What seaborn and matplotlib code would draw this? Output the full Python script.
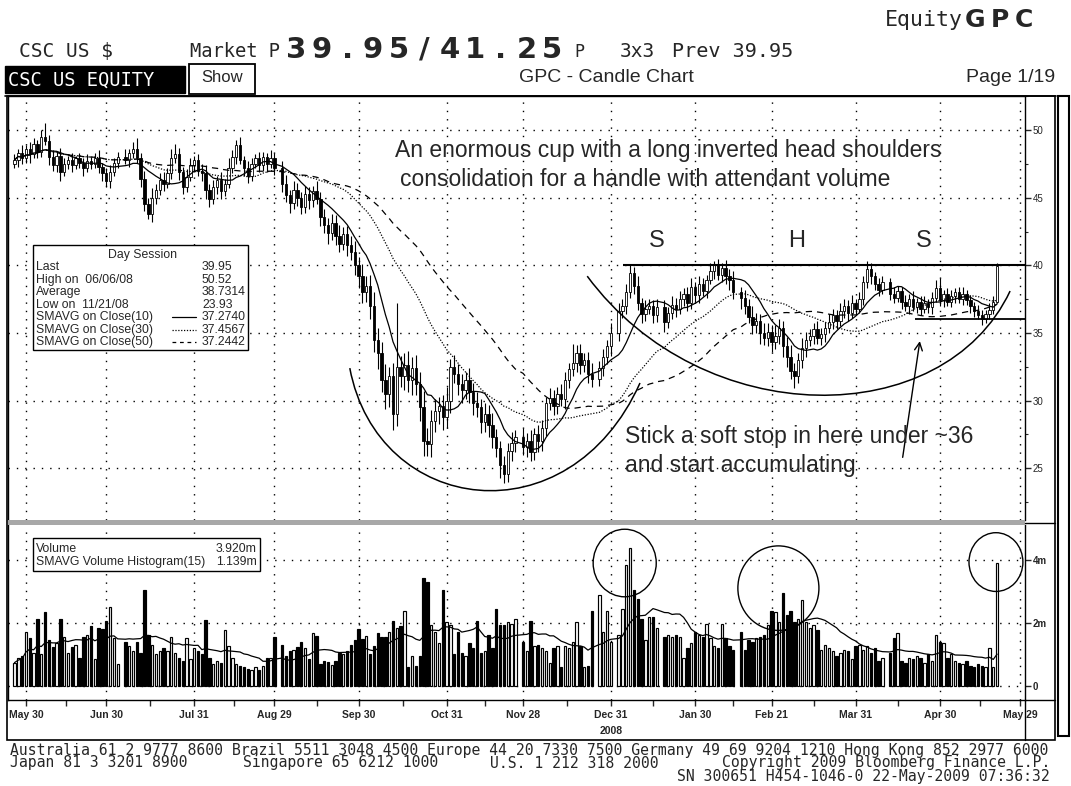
import numpy as np
import pandas as pd
import matplotlib.pyplot as plt
import seaborn as sns
from matplotlib.patches import Rectangle, Ellipse, PathPatch
from matplotlib.lines import Line2D
from matplotlib.path import Path
from matplotlib.ticker import MultipleLocator

W, H = 1071, 786

# ---- data ----
start = "2008-05-27"
holidays = ["2008-07-04", "2008-09-01", "2008-11-27", "2008-12-25",
            "2009-01-01", "2009-01-19", "2009-02-16", "2009-04-10"]

close = [
    47.8, 48.3, 47.9, 48.6, 48.2, 49.0, 48.4, 49.5, 49.2, 48.0,
    47.4, 48.1, 46.9, 47.5, 47.8, 47.4, 47.9, 47.6, 47.2, 47.7,
    47.5, 47.9, 47.3, 46.8, 46.2, 46.9, 47.6, 48.0, 47.8, 48.3,
    48.6, 47.9, 46.4, 44.5, 43.8, 45.0, 45.6, 46.3, 46.0, 46.8,
    47.9, 48.2, 46.9, 45.8, 46.5, 47.4, 47.8, 47.0, 46.8, 45.6,
    44.9, 45.8, 46.3, 45.5, 46.0, 47.2, 48.0, 48.9, 47.8, 47.2,
    46.6, 47.5, 47.9, 47.4, 48.0, 47.5, 47.9, 47.2, 46.0, 45.2,
    44.6, 45.6, 45.0, 44.3, 45.3, 44.8, 45.5, 44.9, 43.6, 43.0,
    42.4, 43.1, 42.2, 41.6, 42.3, 41.5, 41.0, 40.0, 39.2, 38.0,
    38.5, 37.0, 34.5, 33.5, 31.5, 30.5, 31.8, 29.0, 32.5, 31.8,
    32.6, 31.5, 32.4, 31.2, 29.5, 27.0, 26.8, 28.5, 29.2, 29.6,
    28.8, 30.0, 32.5, 32.0, 31.2, 30.8, 31.5, 30.6, 29.8, 29.5,
    28.4, 29.0, 28.2, 27.3, 26.5, 25.2, 24.6, 26.3, 26.9, 27.3,
    26.6, 27.0, 26.2, 27.5, 27.0, 28.0, 29.8, 30.2, 29.6, 30.5,
    30.1, 31.5, 32.3, 32.8, 33.5, 32.6, 33.0, 32.0, 31.6, 32.4,
    33.2, 34.0, 35.0, 36.6, 37.0, 38.0, 39.4, 38.5, 37.2, 36.4,
    36.8, 37.0, 36.3, 36.9, 35.8, 36.5, 37.1, 36.8, 37.5, 37.9,
    37.2, 38.4, 37.8, 38.6, 38.1, 38.9, 39.6, 40.0, 39.3, 39.8,
    39.2, 38.9, 38.0, 37.6, 37.0, 36.2, 35.6, 35.9, 35.0, 34.6,
    35.1, 34.3, 34.8, 35.4, 34.0, 33.2, 32.2, 31.8, 33.0, 33.9,
    34.5, 34.8, 35.3, 34.6, 34.9, 35.4, 35.8, 36.3, 35.9, 36.6,
    37.0, 36.5, 37.2, 36.8, 37.5, 38.8, 39.7, 39.2, 38.6, 38.2,
    38.8, 37.9, 37.6, 38.1, 37.3, 37.0, 37.5, 36.9, 37.3, 36.8,
    37.2, 36.9, 37.6, 38.3, 37.4, 37.9, 37.3, 37.7, 38.0, 37.5,
    37.9, 37.4, 37.0, 36.6, 36.3, 36.0, 36.4, 36.7, 37.3, 39.95,
]
first_open = 47.5

wick_hi = [
    0.4, 0.3, 0.6, 0.3, 0.5, 0.4, 0.3, 0.5, 1.02, 0.4,
    0.5, 0.3, 0.6, 0.4, 0.3, 0.5, 0.2, 0.4, 0.3, 0.5,
    0.3, 0.4, 0.6, 0.3, 0.4, 0.5, 0.3, 0.4, 0.6, 0.3,
    0.5, 0.8, 0.4, 0.6, 0.5, 0.7, 0.4, 0.5, 0.6, 0.4,
    0.7, 0.8, 0.5, 0.4, 0.6, 0.5, 0.3, 0.4, 0.5, 0.6,
    0.4, 0.5, 0.3, 0.6, 0.4, 0.7, 0.5, 0.4, 0.6, 0.3,
    0.5, 0.4, 0.3, 0.5, 0.4, 0.3, 0.6, 0.4, 0.5, 0.7,
    0.4, 0.6, 0.5, 0.4, 0.6, 0.5, 0.4, 0.7, 0.5, 0.6,
    0.5, 0.7, 0.6, 0.8, 0.5, 0.6, 0.7, 0.8, 0.6, 0.9,
    0.7, 0.8, 1.0, 0.9, 0.8, 1.2, 0.7, 1.0, 4.7, 0.8,
    0.9, 1.1, 0.8, 1.0, 0.9, 1.2, 1.0, 0.8, 0.9, 0.7,
    0.8, 1.0, 0.6, 0.9, 0.7, 0.8, 0.6, 0.9, 0.7, 0.8,
    0.6, 0.8, 0.7, 0.9, 0.6, 0.5, 0.7, 0.6, 0.8, 0.5,
    0.7, 0.6, 0.8, 0.5, 0.7, 0.6, 0.5, 0.7, 0.6, 0.5,
    0.7, 0.6, 0.5, 1.4, 0.6, 0.7, 0.5, 0.6, 0.8, 0.5,
    0.6, 0.5, 0.7, 0.6, 0.5, 0.6, 0.6, 0.5, 0.7, 0.4,
    0.6, 0.5, 0.4, 0.6, 0.5, 0.4, 0.6, 0.5, 0.6, 0.4,
    0.5, 0.7, 0.4, 0.6, 0.5, 0.4, 0.6, 0.3, 0.5, 0.4,
    0.6, 0.5, 0.7, 0.4, 0.6, 0.5, 0.8, 0.6, 0.5, 0.7,
    0.6, 0.5, 0.8, 0.6, 0.5, 0.7, 0.9, 0.6, 0.5, 0.7,
    0.6, 0.5, 0.4, 0.6, 0.5, 0.4, 0.6, 0.5, 0.4, 0.6,
    0.5, 0.4, 0.6, 0.3, 0.5, 0.4, 0.6, 0.5, 0.3, 0.5,
    0.4, 0.3, 0.5, 0.4, 0.3, 0.5, 0.4, 0.6, 0.3, 0.4,
    0.5, 0.3, 0.4, 0.6, 0.8, 0.3, 0.4, 0.5, 0.3, 0.4,
    0.5, 0.3, 0.4, 0.3, 0.5, 0.4, 0.3, 0.5, 0.4, 0.25,
]

wick_lo = [
    0.3, 0.5, 0.4, 0.3, 0.6, 0.3, 0.5, 0.4, 0.3, 0.6,
    0.4, 0.5, 0.7, 0.3, 0.4, 0.5, 0.3, 0.4, 0.6, 0.3,
    0.4, 0.3, 0.5, 0.6, 0.4, 0.5, 0.3, 0.4, 0.3, 0.5,
    0.4, 0.3, 0.6, 0.5, 0.4, 0.6, 0.5, 0.4, 0.5, 0.3,
    0.4, 0.3, 0.6, 0.5, 0.4, 0.3, 0.5, 0.4, 0.6, 0.7,
    0.6, 0.4, 0.5, 0.6, 0.4, 0.3, 0.4, 0.5, 0.3, 0.6,
    0.5, 0.4, 0.3, 0.5, 0.4, 0.6, 0.3, 0.5, 0.6, 0.5,
    0.7, 0.4, 0.6, 0.5, 0.4, 0.6, 0.5, 0.4, 0.7, 0.6,
    0.8, 0.5, 0.7, 0.6, 0.5, 0.8, 0.6, 0.7, 0.9, 0.8,
    0.7, 1.0, 0.9, 1.2, 0.9, 1.1, 1.0, 1.2, 0.9, 0.8,
    1.0, 0.9, 1.1, 0.8, 1.0, 1.1, 0.9, 1.0, 0.8, 0.9,
    1.0, 0.8, 0.9, 0.7, 0.8, 1.0, 0.7, 0.8, 0.9, 0.7,
    0.8, 0.7, 0.9, 0.8, 0.7, 0.9, 0.67, 0.6, 0.8, 0.7,
    0.6, 0.8, 0.7, 0.6, 0.8, 0.7, 0.6, 0.5, 0.7, 0.6,
    0.5, 0.7, 0.6, 0.5, 0.7, 0.6, 0.5, 0.7, 0.6, 0.5,
    0.6, 0.5, 0.7, 0.6, 0.5, 0.6, 0.4, 0.6, 0.5, 0.7,
    0.5, 0.4, 0.6, 0.5, 0.7, 0.4, 0.5, 0.6, 0.4, 0.5,
    0.6, 0.4, 0.5, 0.6, 0.4, 0.5, 0.3, 0.6, 0.4, 0.5,
    0.6, 0.7, 0.5, 0.8, 0.6, 0.5, 0.7, 0.6, 0.8, 0.5,
    0.6, 0.7, 0.5, 0.6, 0.8, 0.7, 0.6, 0.9, 0.5, 0.6,
    0.7, 0.5, 0.6, 0.4, 0.5, 0.6, 0.4, 0.5, 0.6, 0.4,
    0.5, 0.6, 0.4, 0.5, 0.3, 0.4, 0.5, 0.6, 0.4, 0.5,
    0.3, 0.5, 0.4, 0.3, 0.5, 0.4, 0.6, 0.3, 0.4, 0.5,
    0.3, 0.4, 0.5, 0.3, 0.4, 0.5, 0.3, 0.4, 0.5, 0.3,
    0.4, 0.3, 0.5, 0.4, 0.3, 0.4, 0.3, 0.4, 0.3, 0.1,
]

# volume in millions of shares
volume = [
    0.74, 0.90, 0.95, 1.73, 1.52, 1.05, 2.12, 1.00, 2.34, 1.45,
    1.25, 1.35, 2.12, 1.57, 1.05, 1.25, 1.30, 0.90, 1.57, 1.62,
    1.90, 0.85, 1.85, 1.80, 2.06, 2.52, 1.51, 0.69, 1.40, 1.26,
    1.10, 1.40, 1.05, 3.06, 1.62, 1.30, 1.00, 1.10, 1.20, 1.10,
    1.57, 1.05, 0.90, 0.80, 1.51, 0.85, 1.20, 1.10, 1.00, 2.11,
    0.90, 0.69, 0.80, 0.74, 1.78, 1.26, 0.90, 0.69, 0.64, 0.59,
    0.54, 0.49, 0.59, 0.49, 0.64, 0.90, 0.90, 1.57, 1.30, 0.95,
    1.10, 1.15, 1.25, 1.40, 1.20, 0.85, 1.67, 1.60, 0.70, 0.80,
    0.75, 0.65, 0.80, 1.05, 1.00, 1.10, 1.30, 1.45, 1.80, 1.50,
    1.60, 1.00, 1.26, 1.67, 1.57, 1.57, 1.72, 2.08, 1.83, 1.91,
    2.39, 0.59, 0.95, 0.64, 0.95, 3.42, 3.32, 1.93, 1.72, 1.36,
    3.06, 2.03, 1.93, 1.00, 1.72, 1.05, 0.95, 1.36, 1.21, 2.08,
    1.05, 1.10, 1.62, 1.21, 2.46, 1.93, 1.93, 2.03, 1.98, 2.13,
    1.41, 1.10, 2.08, 1.26, 1.31, 1.21, 1.10, 0.74, 1.21, 1.26,
    0.59, 1.26, 1.21, 1.41, 2.03, 1.26, 0.59, 0.62, 2.39, 2.88,
    1.72, 2.39, 1.41, 1.62, 2.44, 3.84, 4.40, 3.06, 2.77, 2.13,
    1.46, 2.19, 2.19, 1.83, 1.57, 1.62, 1.57, 1.62, 1.57, 0.90,
    1.21, 1.36, 1.72, 1.62, 1.57, 1.98, 1.52, 1.26, 1.21, 1.98,
    1.52, 1.26, 1.15, 1.72, 1.15, 1.46, 1.41, 1.52, 1.57, 1.62,
    1.93, 2.39, 2.34, 2.03, 2.96, 2.24, 2.39, 2.03, 2.13, 2.72,
    2.03, 1.83, 1.93, 1.77, 1.15, 1.31, 1.21, 1.10, 0.95, 1.05,
    1.15, 1.10, 0.85, 1.26, 1.31, 1.15, 1.26, 1.05, 1.21, 0.79,
    0.90, 1.05, 1.52, 1.67, 0.79, 0.74, 0.90, 0.85, 0.95, 0.90,
    0.74, 1.00, 0.79, 1.62, 1.41, 1.36, 0.90, 1.00, 0.79, 0.74,
    0.69, 0.79, 0.64, 0.59, 0.69, 0.64, 0.59, 1.21, 0.59, 3.92,
]

tick_dates = ["2008-05-30", "2008-06-30", "2008-07-31", "2008-08-29", "2008-09-30",
              "2008-10-31", "2008-11-28", "2008-12-31", "2009-01-30", "2009-02-27",
              "2009-03-31", "2009-04-30", "2009-05-29"]
tick_labels = ["May 30", "Jun 30", "Jul 31", "Aug 29", "Sep 30", "Oct 31", "Nov 28",
               "Dec 31", "Jan 30", "Feb 21", "Mar 31", "Apr 30", "May 29"]
price_ticks = [25, 30, 35, 40, 45, 50]
vol_ticks = [0, 2, 4]
vol_tick_labels = ["0", "2m", "4m"]

session_rows = ["Last", "High on  06/06/08", "Average", "Low on  11/21/08",
                "SMAVG on Close(10)", "SMAVG on Close(30)", "SMAVG on Close(50)"]
session_vals = ["39.95", "50.52", "38.7314", "23.93", "37.2740", "37.4567", "37.2442"]

# ---- frame ----
dates = pd.bdate_range(start=start, periods=len(close), freq="C", holidays=holidays)
df = pd.DataFrame({"date": dates, "close": close, "volume": volume})
df["open"] = df["close"].shift(1).fillna(first_open)
top = df[["open", "close"]].max(axis=1)
bot = df[["open", "close"]].min(axis=1)
df["high"] = top + np.array(wick_hi)
df["low"] = bot - np.array(wick_lo)
df["x"] = np.busday_count(np.datetime64(start), dates.values.astype("datetime64[D]"))
df["sma10"] = df["close"].rolling(10, min_periods=1).mean()
df["sma30"] = df["close"].rolling(30, min_periods=1).mean()
df["sma50"] = df["close"].rolling(50, min_periods=1).mean()
df["vsma15"] = df["volume"].rolling(15, min_periods=1).mean()
df["dir"] = np.where(df["close"] >= df["open"], "up", "down")

tick_x = np.busday_count(np.datetime64(start), np.array(tick_dates, dtype="datetime64[D]"))

sns.set_theme(style="white")
plt.rcParams["font.family"] = ["Liberation Sans", "DejaVu Sans"]
NARROW = ["Liberation Sans Narrow", "Liberation Sans", "DejaVu Sans"]
MONO = "DejaVu Sans Mono"

fig = plt.figure(figsize=(W / 100, H / 100), dpi=100)


def px(x, y):
    return x / W, 1 - y / H


def frect(x0, y0, x1, y1, **kw):
    fig.add_artist(Rectangle((x0 / W, 1 - y1 / H), (x1 - x0) / W, (y1 - y0) / H,
                             transform=fig.transFigure, **kw))


def fline(xs, ys, **kw):
    kw.setdefault("color", "black")
    fig.add_artist(Line2D([v / W for v in xs], [1 - v / H for v in ys],
                          transform=fig.transFigure, **kw))


def axes_at(x0, y0, x1, y1):
    return fig.add_axes([x0 / W, 1 - y1 / H, (x1 - x0) / W, (y1 - y0) / H])


ax = axes_at(8, 96, 1025, 520)
axv = axes_at(8, 525, 1025, 700)
grid_ls = (0, (1, 5))

# ---- price panel ----
ax.vlines(df["x"], df["low"], df["high"], color="black", lw=0.8, zorder=3)
body = np.maximum(top - bot, 0.06)
ax.bar(df["x"], body, bottom=bot, width=0.62,
       color=np.where(df["dir"] == "up", "white", "black"),
       edgecolor="black", linewidth=0.6, zorder=4)
sns.lineplot(data=df, x="x", y="sma10", ax=ax, color="black", lw=0.9, zorder=5)
sns.lineplot(data=df, x="x", y="sma30", ax=ax, color="black", lw=0.9,
             linestyle=(0, (1, 1.3)), zorder=5)
sns.lineplot(data=df, x="x", y="sma50", ax=ax, color="black", lw=0.9,
             linestyle=(0, (5, 4)), zorder=5)

ax.set_xlim(-1.7, 264.3)
ax.set_ylim(21.17, 52.52)
ax.set_xticks(tick_x)
ax.set_yticks(price_ticks)
ax.yaxis.set_minor_locator(MultipleLocator(2.5))
ax.yaxis.tick_right()
ax.tick_params(axis="x", bottom=False, labelbottom=False)
ax.tick_params(axis="y", which="major", direction="out", length=4, width=1,
               pad=1.5, labelsize=7, right=True)
ax.tick_params(axis="y", which="minor", direction="out", length=2.5, width=0.8, right=True)
for lab in ax.get_yticklabels():
    lab.set_fontfamily(NARROW)
ax.grid(True, which="major", color="black", lw=1.0, ls=grid_ls)
ax.set_axisbelow(True)
ax.set_xlabel("")
ax.set_ylabel("")
for s in ax.spines.values():
    s.set_color("black")
    s.set_linewidth(1)
ax.spines["bottom"].set_visible(False)

# trend lines and cups
ax.hlines(40, 159.2, 264.3, color="black", lw=1.5, zorder=6)
ax.hlines(36, 235.5, 264.3, color="black", lw=1.3, zorder=6)
cup_small = Path([(87.7, 32.4), (95, 21.5), (145, 19.6), (163.6, 31.3)],
                 [Path.MOVETO, Path.CURVE4, Path.CURVE4, Path.CURVE4])
cup_big = Path([(149.8, 39.2), (180, 27.65), (243, 27.65), (260.4, 38.1)],
               [Path.MOVETO, Path.CURVE4, Path.CURVE4, Path.CURVE4])
for p in (cup_small, cup_big):
    ax.add_patch(PathPatch(p, fill=False, ec="black", lw=1.1, zorder=6))
ax.annotate("", xy=(236.9, 34.6), xytext=(232.2, 25.6),
            arrowprops=dict(arrowstyle="->", color="black", lw=1.0, mutation_scale=14))

# ---- volume panel ----
sns.barplot(data=df, x="x", y="volume", hue="dir", palette={"up": "white", "down": "black"},
            native_scale=True, dodge=False, width=0.62, edgecolor="black", linewidth=0.85,
            saturation=1, errorbar=None, legend=False, ax=axv, zorder=3)
sns.lineplot(data=df, x="x", y="vsma15", ax=axv, color="black", lw=0.9, zorder=5)
axv.set_xlim(-1.7, 264.3)
axv.set_ylim(-0.45, 5.12)
axv.set_xticks(tick_x, tick_labels)
axv.set_xticks((tick_x[:-1] + tick_x[1:]) / 2, minor=True)
axv.set_yticks(vol_ticks, vol_tick_labels)
axv.yaxis.tick_right()
axv.tick_params(axis="x", which="both", direction="out", length=4, width=1,
                pad=3, labelsize=7.5, bottom=True)
axv.tick_params(axis="y", direction="out", length=4, width=1, pad=1.5, labelsize=7, right=True)
for lab in axv.get_xticklabels() + axv.get_yticklabels():
    lab.set_fontfamily(NARROW)
    lab.set_fontweight("bold")
axv.grid(True, which="major", color="black", lw=1.0, ls=grid_ls)
axv.set_axisbelow(True)
axv.set_xlabel("")
axv.set_ylabel("")
for s in axv.spines.values():
    s.set_color("black")
    s.set_linewidth(1)
axv.spines["top"].set_visible(False)
axv.text(tick_x[7], -0.18, "2008", transform=axv.get_xaxis_transform(), ha="center",
         va="center", fontsize=7.5, fontweight="bold", fontfamily=NARROW)

for cx, cy, ew, eh in [(159.6, 3.91, 16.5, 2.15), (199.8, 3.11, 21.2, 2.69),
                       (256.7, 3.94, 14.1, 1.87)]:
    axv.add_patch(Ellipse((cx, cy), ew, eh, fill=False, ec="black", lw=1.0, zorder=6))

# ---- frame and header ----
fline([5, 1056], [96, 96], lw=1.2)
frect(7, 96, 1055, 740, fill=False, ec="black", lw=1.2)
fline([1025, 1025], [700, 740], lw=1)
fline([1025, 1055], [523, 523], lw=1)
fline([1025, 1055], [700, 700], lw=1)
frect(1058, 96, 1069, 736, fill=False, ec="black", lw=1.5)
frect(8, 520, 1025, 525, facecolor="#a8a8a8", ec="none")

fig.text(*px(885, 20), "Equity", fontfamily=MONO, fontsize=15.5, va="center")
for i, ch in enumerate("GPC"):
    fig.text(*px(975 + i * 24.5, 20), ch, fontfamily="DejaVu Sans", fontweight="bold",
             fontsize=18, ha="center", va="center")

fig.text(*px(19, 57), "CSC US $", fontfamily=MONO, fontsize=14, va="baseline")
fig.text(*px(190, 57), "Market P", fontfamily=MONO, fontsize=13.5, va="baseline")
for i, ch in enumerate("39.95/41.25"):
    fig.text(*px(296 + i * 25.6, 58), ch, fontfamily="DejaVu Sans", fontweight="bold",
             fontsize=21, ha="center", va="baseline")
fig.text(*px(574, 57), "P", fontfamily=MONO, fontsize=12, va="baseline")
fig.text(*px(620, 57), "3x3", fontfamily=MONO, fontsize=14, va="baseline")
fig.text(*px(672, 57), "Prev 39.95", fontfamily=MONO, fontsize=14.5, va="baseline")

frect(5, 66, 185, 93, facecolor="black", ec="black")
fig.text(*px(8, 80), "CSC US EQUITY", fontfamily=MONO, fontsize=13.5, color="white",
         va="center")
frect(189, 64, 255, 94, facecolor="white", ec="black", lw=1.3)
fig.text(*px(222, 77), "Show", fontsize=12, ha="center", va="center")
fig.text(*px(606, 78), "GPC - Candle Chart", fontfamily=NARROW, fontsize=14,
         ha="center", va="center")
fig.text(*px(1055, 78), "Page 1/19", fontfamily=NARROW, fontsize=14, ha="right", va="center")

# ---- legend boxes ----
frect(33, 245, 248, 350, facecolor="white", ec="black", lw=1, zorder=10)
fig.text(*px(142, 255), "Day Session", fontsize=8.8, ha="center", va="center", zorder=11)
line_styles = {4: "-", 5: (0, (1, 1.3)), 6: (0, (3, 3))}
for i, (name, val) in enumerate(zip(session_rows, session_vals)):
    y = 267.5 + 12.4 * i
    fig.text(*px(36, y), name, fontsize=8.8, va="center", zorder=11)
    fig.text(*px(202, y), val, fontsize=8.8, va="center", zorder=11)
    if i in line_styles:
        fline([172, 196], [y, y], lw=0.9, ls=line_styles[i], zorder=11)

frect(33, 538, 260, 571, facecolor="white", ec="black", lw=1, zorder=10)
fig.text(*px(36, 549), "Volume", fontsize=8.8, va="center", zorder=11)
fig.text(*px(36, 562), "SMAVG Volume Histogram(15)", fontsize=8.8, va="center", zorder=11)
fig.text(*px(257, 549), "3.920m", fontsize=8.8, ha="right", va="center", zorder=11)
fig.text(*px(257, 562), "1.139m", fontsize=8.8, ha="right", va="center", zorder=11)

# ---- annotations ----
note_kw = dict(fontsize=16.5, va="center", zorder=12)
fig.text(*px(395, 150), "An enormous cup with a long inverted head shoulders", **note_kw)
fig.text(*px(400, 179), "consolidation for a handle with attendant volume", **note_kw)
for x, s in [(657, "S"), (797, "H"), (924, "S")]:
    fig.text(*px(x, 241), s, fontsize=17, ha="center", va="center", zorder=12)
fig.text(*px(625, 437), "Stick a soft stop in here under ~36", **note_kw)
fig.text(*px(625, 465), "and start accumulating", **note_kw)

# ---- footer ----
foot_kw = dict(fontfamily=MONO, fontsize=10.6, va="center")
fig.text(*px(10, 750), "Australia 61 2 9777 8600 Brazil 5511 3048 4500 Europe 44 20 7330 7500 "
         "Germany 49 69 9204 1210 Hong Kong 852 2977 6000", **foot_kw)
fig.text(*px(10, 763), "Japan 81 3 3201 8900", **foot_kw)
fig.text(*px(243, 763), "Singapore 65 6212 1000", **foot_kw)
fig.text(*px(490, 763), "U.S. 1 212 318 2000", **foot_kw)
fig.text(*px(1050, 763), "Copyright 2009 Bloomberg Finance L.P.", ha="right", **foot_kw)
fig.text(*px(1050, 776), "SN 300651 H454-1046-0 22-May-2009 07:36:32", ha="right", **foot_kw)

fig.savefig("out.png", dpi=100)
